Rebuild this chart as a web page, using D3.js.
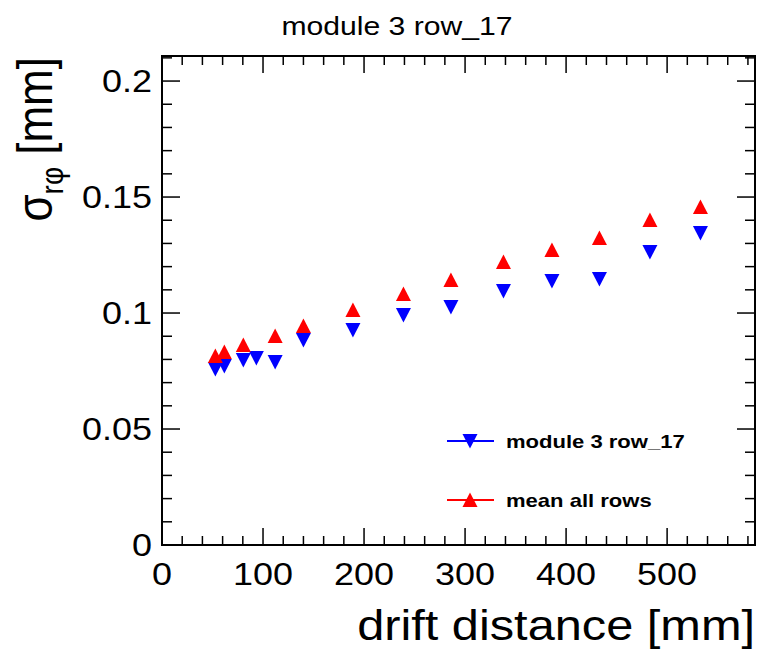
<!DOCTYPE html>
<head>
<meta charset="utf-8">
<title>module 3 row_17</title>
<script src="https://d3js.org/d3.v7.min.js"></script>
<style>
body {
  margin: 0;
  background: #ffffff;
  font-family: "Liberation Sans", Arial, sans-serif;
}
svg {
  display: block;
}
.frame {
  fill: none;
  stroke: #000;
  stroke-width: 2px;
}
.tick line {
  stroke: #000;
  stroke-width: 1.5px;
}
</style>
</head>
<body>
<script>

// drift distance [mm] and sigma_rphi [mm]
const rowX = [52.8, 61.7, 80.5, 93.4, 112, 140, 189, 239, 286, 338, 386, 433, 483, 533];
const rowY = [0.0759, 0.0772, 0.0797, 0.0806, 0.0789, 0.0884, 0.0927, 0.0991, 0.1026, 0.1095, 0.1138, 0.1147, 0.1263, 0.1345];

const meanX = [52.8, 61.7, 80.5, 112, 140, 189, 239, 286, 338, 386, 433, 483, 533];
const meanY = [0.0815, 0.0832, 0.0862, 0.0901, 0.0944, 0.1013, 0.1082, 0.1142, 0.1220, 0.1272, 0.1323, 0.1401, 0.1457];

const xTicks = [0, 100, 200, 300, 400, 500];
const yTicks = [0, 0.05, 0.1, 0.15, 0.2];
const yTickLabels = ["0", "0.05", "0.1", "0.15", "0.2"];

const title = "module 3 row_17";
const legendNames = ["module 3 row_17", "mean all rows"];

const width = 757,
  height = 652,
  stretch = 1.16; // glyphs in the picture are a bit wide

const padL = 162, padR = 755, padT = 56, padB = 545;

const x = d3.scaleLinear().domain([0, 587]).range([padL, padR]);
const y = d3.scaleLinear().domain([0, 0.2108]).range([padB, padT]);

let svg = d3.select('body').append('svg')
  .attr('width', width)
  .attr('height', height);

// minor ticks
let xMinor = d3.range(0, 587, 20);
let yMinor = d3.range(0, 0.2109, 0.01);

let ticks = svg.append('g').attr('class', 'tick');

function tickLines(vals, isMajor, horiz) {
  vals.forEach(v => {
    if (horiz) {
      let len = isMajor ? 17 : 9;
      ticks.append('line').attr('x1', x(v)).attr('x2', x(v)).attr('y1', padB).attr('y2', padB - len);
      ticks.append('line').attr('x1', x(v)).attr('x2', x(v)).attr('y1', padT).attr('y2', padT + len);
    } else {
      let len = isMajor ? 18 : 10;
      ticks.append('line').attr('y1', y(v)).attr('y2', y(v)).attr('x1', padL).attr('x2', padL + len);
      ticks.append('line').attr('y1', y(v)).attr('y2', y(v)).attr('x1', padR).attr('x2', padR - len);
    }
  });
}
tickLines(xMinor.filter(v => v % 100 !== 0), false, true);
tickLines(xTicks, true, true);
tickLines(yMinor.filter(v => Math.round(v * 100) % 5 !== 0), false, false);
tickLines(yTicks, true, false);

svg.append('rect')
  .attr('class', 'frame')
  .attr('x', padL).attr('y', padT)
  .attr('width', padR - padL).attr('height', padB - padT);

function stretchedText(g, px, py, txt, size, anchor) {
  return g.append('text')
    .attr('transform', 'translate(' + px + ',' + py + ') scale(' + stretch + ',1)')
    .attr('text-anchor', anchor)
    .style('font-size', size + 'px')
    .text(txt);
}

// tick labels
xTicks.forEach(v => stretchedText(svg, x(v), 585, v, 31, 'middle'));
yTicks.forEach((v, i) => stretchedText(svg, 152, y(v) + 11, yTickLabels[i], 31, 'end'));

// title
stretchedText(svg, 397, 35, title, 26, 'middle');

// axis titles
stretchedText(svg, 755, 640, 'drift distance [mm]', 42, 'end');

let ylab = svg.append('text')
  .attr('transform', 'translate(52,57) rotate(-90) scale(1,1.12)')
  .attr('text-anchor', 'end')
  .style('font-size', '44px');
ylab.append('tspan').text('σ');
ylab.append('tspan').attr('dy', 10).style('font-size', '28px').text('rφ');
ylab.append('tspan').attr('dy', -10).text(' [mm]');

// markers
const tri = 'M-7.5,7L7.5,7L0,-7.5Z';

function markers(xs, ys, color, down) {
  svg.append('g')
    .selectAll('path')
    .data(xs.map((d, i) => [d, ys[i]]))
    .enter().append('path')
      .attr('d', tri)
      .attr('fill', color)
      .attr('transform', d => 'translate(' + x(d[0]) + ',' + y(d[1]) + ')' + (down ? ' rotate(180)' : ''));
}
markers(rowX, rowY, '#0000ff', true);
markers(meanX, meanY, '#ff0000', false);

// legend
const legendColors = ['#0000ff', '#ff0000'];
const legendY = [441, 500];
legendNames.forEach((name, i) => {
  let g = svg.append('g');
  g.append('line')
    .attr('x1', 447).attr('x2', 494)
    .attr('y1', legendY[i]).attr('y2', legendY[i])
    .attr('stroke', legendColors[i]).attr('stroke-width', 2);
  g.append('path')
    .attr('d', tri)
    .attr('fill', legendColors[i])
    .attr('transform', 'translate(470,' + legendY[i] + ')' + (i === 0 ? ' rotate(180)' : ''));
  stretchedText(g, 506, legendY[i] + 7, name, 19, 'start')
    .style('font-weight', 'bold');
});

</script>
</body>
